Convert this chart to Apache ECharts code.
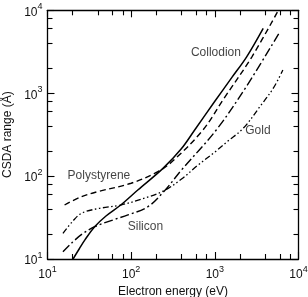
<!DOCTYPE html>
<html><head><meta charset="utf-8">
<script src="https://cdn.jsdelivr.net/npm/echarts@6/dist/echarts.min.js"></script>
<style>html,body{margin:0;padding:0;background:#fff}#c{width:308px;height:297px}</style>
</head><body><div id="c"></div>
<script>
// Tick values
const xMinorTicks = [20,40,60,80,200,400,600,800,2000,4000,6000,8000];
const yMinorTicks = [20,40,60,80,200,400,600,800,2000,4000,6000,8000];

// Series (electron energy in eV, CSDA range in Å)
const collodionE = [20.2, 24, 28, 36.6, 50, 75, 120, 240, 400, 574, 1000, 1600, 2400, 3786];
const collodionR = [10, 13.3, 17, 24.5, 33, 44.8, 68, 124, 215, 360, 800, 1550, 2750, 6070];

const polystyreneE = [16, 25, 40, 100, 209, 316, 721, 1300, 2775, 5740];
const polystyreneR = [44.8, 56, 65, 82, 113, 153, 360, 880, 2750, 10000];

const siliconE = [15.3, 20, 26, 36.6, 60, 91.6, 159, 251, 398, 1040, 2400, 6000];
const siliconR = [12.2, 16, 20, 24.5, 29.5, 34, 42.8, 66.7, 118, 360, 1220, 5520];

const goldE = [15.3, 20, 25.4, 40, 75, 160, 250, 400, 630, 1000, 1435, 2200, 3500, 5000, 6500];
const goldR = [20.4, 28.5, 35.6, 40.5, 44.8, 56, 67, 92, 136, 195, 265, 380, 700, 1150, 1900];

// Curve labels
const labelNames = ['Collodion', 'Polystyrene', 'Silicon', 'Gold'];
const labelE = [1030, 41.2, 148, 3275];
const labelR = [3055, 100, 24.3, 350];

const FONT = '"Liberation Sans", Arial, sans-serif';
const pairs = (a, b) => a.map((v, i) => [v, b[i]]);
const pow10 = v => '{b|10}{s|' + Math.round(Math.log10(v)) + '}';
const rich = {
  b: {fontSize: 12, fontFamily: FONT, color: '#111', lineHeight: 16, verticalAlign: 'bottom'},
  s: {fontSize: 9, fontFamily: FONT, color: '#111', lineHeight: 16, verticalAlign: 'top'}
};

function baseAxis(pos, major, labels, minorVals) {
  const a = {
    type: 'log', min: 10, max: 10000, position: pos,
    axisLine: {show: major, lineStyle: {color: '#000', width: 1.3}},
    axisTick: {show: true, inside: true, length: major ? 7 : 5, lineStyle: {color: '#000', width: 1.1}},
    axisLabel: {show: labels},
    splitLine: {show: false}
  };
  if (labels) a.axisLabel = {show: true, formatter: pow10, rich: rich, margin: 6};
  if (!major) a.axisTick.customValues = minorVals;
  return a;
}

const xMain = baseAxis('bottom', true, true, xMinorTicks);
xMain.name = 'Electron energy (eV)';
xMain.nameLocation = 'middle';
xMain.nameGap = 27;
xMain.nameTextStyle = {fontSize: 12, fontFamily: FONT, color: '#111'};

const yMain = baseAxis('left', true, true, yMinorTicks);
yMain.axisLabel.margin = 5;
yMain.name = 'CSDA range (Å)';
yMain.nameLocation = 'middle';
yMain.nameGap = 30;
yMain.nameRotate = 90;
yMain.nameTextStyle = {fontSize: 12, fontFamily: FONT, color: '#111'};

function lineSeries(name, E, R, dash, w) {
  return {
    name: name, type: 'line', xAxisIndex: 0, yAxisIndex: 0,
    data: pairs(E, R), smooth: 0.35, showSymbol: false, symbol: 'none',
    lineStyle: {color: '#000', width: w, type: dash}
  };
}

const chart = echarts.init(document.getElementById('c'));
chart.setOption({
  animation: false,
  backgroundColor: '#fff',
  grid: {left: 47.5, top: 10.3, right: 9.5, bottom: 38, outerBoundsMode: 'none'},
  xAxis: [xMain, baseAxis('bottom', false, false, xMinorTicks), baseAxis('top', true, false, xMinorTicks), baseAxis('top', false, false, xMinorTicks)],
  yAxis: [yMain, baseAxis('left', false, false, yMinorTicks), baseAxis('right', true, false, yMinorTicks), baseAxis('right', false, false, yMinorTicks)],
  series: [
    lineSeries('Collodion', collodionE, collodionR, 'solid', 1.5),
    lineSeries('Polystyrene', polystyreneE, polystyreneR, [6, 3.5], 1.4),
    lineSeries('Silicon', siliconE, siliconR, [9, 3, 2, 3], 1.4),
    lineSeries('Gold', goldE, goldR, [6, 2.5, 1.5, 2.5, 1.5, 2.5], 1.3),
    {
      type: 'scatter', xAxisIndex: 0, yAxisIndex: 0, symbolSize: 0, silent: true,
      data: labelNames.map((n, i) => ({name: n, value: [labelE[i], labelR[i]]})),
      label: {show: true, position: 'inside', formatter: p => p.name, fontSize: 12, fontFamily: FONT, color: '#111'}
    }
  ]
});
</script></body></html>
